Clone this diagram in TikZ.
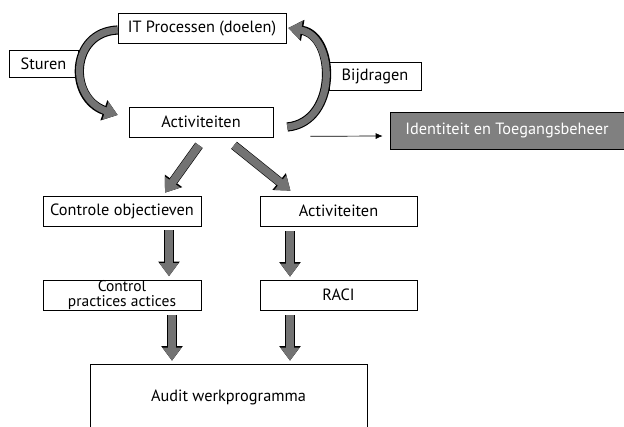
\documentclass[tikz,border=0pt]{standalone}
\usepackage{fontspec}
\setmainfont{PT Sans}
\usepackage{tikz}
\usetikzlibrary{arrows.meta}

\begin{document}
\begin{tikzpicture}[x=1pt,y=-1pt,
    box/.style={draw, line width=0.6pt, minimum height=30pt, inner sep=0pt,
        font=\fontsize{16.3}{14}\selectfont},
    darkbox/.style={box, fill=black!50, text=white},
    fat/.style={draw=black!55, line width=8pt, -{Triangle[width=18pt,length=13pt]},
        preaction={draw=black, line width=9.2pt, -{Triangle[width=20.5pt,length=14.6pt]}}},
    thin/.style={draw, line width=0.7pt, -{Latex[length=7pt,width=6pt]}}]
    \useasboundingbox (0,0) rectangle (624,426);

    \node[box, minimum width=168pt] (itp) at (202,28) {IT Processen (doelen)};
    \node[box, minimum width=69pt, minimum height=27pt] (st) at (43.5,63.5) {Sturen};
    \node[box, minimum width=92pt, minimum height=28pt] (bd) at (375,76) {Bijdragen};
    \node[box, minimum width=144pt] (act) at (201,122) {Activiteiten};
    \node[darkbox, minimum width=234pt, minimum height=37pt] (iam) at (507,130.5) {Identiteit en Toegangsbeheer};

    \node[box, minimum width=158pt] (co) at (122,211) {Controle objectieven};
    \node[box, minimum width=157pt] (ac) at (338.5,211) {Activiteiten};
    \node[box, minimum width=158pt, align=center, font=\fontsize{15.5}{14}\selectfont] (cp) at (122,295.5) {Control\\[1pt]practices actices};
    \node[box, minimum width=157pt] (raci) at (338.5,295) {RACI};
    \node[box, minimum width=277pt, minimum height=66pt] (aw) at (228.5,397) {Audit werkprogramma};

    \draw[fat, line width=7pt] ([yshift=-2pt]itp.west) .. controls (70,32) and (68,98) .. ([xshift=-11pt,yshift=7pt]act.west);
    \draw[fat, line width=7pt] ([xshift=14pt,yshift=-5pt]act.east) .. controls (338,122) and (336,36) .. ([xshift=2pt]itp.east);
    \draw[thin] ([xshift=37pt,yshift=1pt]act.south east) -- ([xshift=-7pt,yshift=-5.5pt]iam.west);

    \draw[fat] ([xshift=-2pt,yshift=-8pt]act.south) -- ([xshift=43pt,yshift=3pt]co.north);
    \draw[fat] ([xshift=33pt,yshift=-8pt]act.south) -- ([xshift=-48pt,yshift=5pt]ac.north);
    \draw[fat] ([xshift=47pt,yshift=-4pt]co.south) -- ([xshift=47pt,yshift=4pt]cp.north);
    \draw[fat] ([xshift=-48.5pt,yshift=-5pt]ac.south) -- ([xshift=-48.5pt,yshift=3pt]raci.north);
    \draw[fat] ([xshift=50pt,yshift=-4pt]cp.south) -- ([xshift=-56.5pt,yshift=3pt]aw.north);
    \draw[fat] ([xshift=-48.5pt,yshift=-5pt]raci.south) -- ([xshift=61.5pt,yshift=3pt]aw.north);
\end{tikzpicture}
\end{document}
